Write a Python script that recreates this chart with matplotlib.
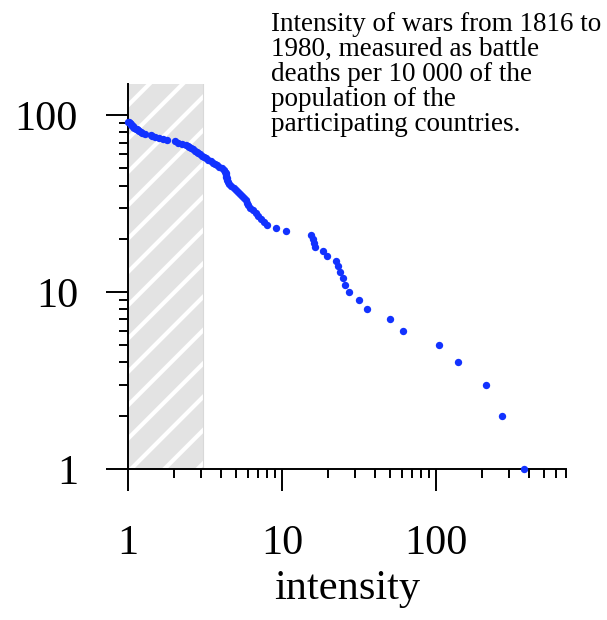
import matplotlib

matplotlib.use("Agg")
import matplotlib.pyplot as plt
from matplotlib.ticker import FixedLocator, LogLocator, NullFormatter


plt.rcParams.update(
    {
        "font.family": ["Liberation Serif", "DejaVu Serif"],
        "hatch.linewidth": 3.0,
        "axes.linewidth": 1.4,
    }
)

# war intensity (battle deaths per 10 000 population), largest first;
# the rank of each war is its cumulative count
intensity = [
    373, 268, 211, 140, 105, 61, 50, 35.5, 31.8, 27.3,
    25.7, 25.0, 24.0, 23.2, 22.6, 19.7, 18.5, 16.4, 16.1, 15.8,
    15.4, 10.6, 9.2, 7.95, 7.64, 7.3, 7.02, 6.78, 6.5, 6.2,
    6.0, 5.9, 5.85, 5.7, 5.5, 5.3, 5.15, 5.05, 4.85, 4.65,
    4.5, 4.45, 4.42, 4.38, 4.35, 4.32, 4.3, 4.27, 4.2, 4.05,
    3.9, 3.78, 3.65, 3.55, 3.45, 3.32, 3.22, 3.12, 3.02, 2.95,
    2.87, 2.8, 2.72, 2.65, 2.57, 2.5, 2.44, 2.38, 2.25, 2.12,
    2.02, 1.78, 1.68, 1.6, 1.5, 1.44, 1.41, 1.28, 1.24, 1.21,
    1.18, 1.16, 1.14, 1.12, 1.1, 1.08, 1.07, 1.05, 1.04, 1.03,
    1.02, 1.0,
]
wars_at_least = list(range(1, len(intensity) + 1))

shade_range = (1, 3.05)
tick_values = [1, 10, 100]
tick_labels = ["1", "10", "100"]
caption = (
    "Intensity of wars from 1816 to\n"
    "1980, measured as battle\n"
    "deaths per 10 000 of the\n"
    "population of the\n"
    "participating countries."
)

fig = plt.figure(figsize=(6.07, 6.20), dpi=100)
ax = fig.add_axes([128 / 607, 151 / 620, 438 / 607, 385 / 620])

ax.set_xscale("log")
ax.set_yscale("log")
ax.set_xlim(1, 700)
ax.set_ylim(1, 150)

ax.axvspan(*shade_range, facecolor="#e3e3e3", edgecolor="white",
           hatch="/", linewidth=0, zorder=0)
ax.axvline(shade_range[1], color="#d8d8d8", linewidth=0.8, zorder=0)

ax.plot(intensity, wars_at_least, "o", color="#1232ff", markersize=5.3,
        markeredgewidth=0, clip_on=False, zorder=5)

for side in ("top", "right"):
    ax.spines[side].set_visible(False)

for axis in (ax.xaxis, ax.yaxis):
    axis.set_major_locator(FixedLocator(tick_values))
    axis.set_minor_locator(LogLocator(base=10, subs=range(2, 10)))
    axis.set_minor_formatter(NullFormatter())
ax.set_xticklabels(tick_labels)
ax.set_yticklabels(tick_labels)

ax.tick_params(which="major", direction="out", length=16, width=1.4,
               labelsize=30.5)
ax.tick_params(axis="x", which="major", pad=24)
ax.tick_params(axis="y", which="major", pad=20)
ax.tick_params(which="minor", direction="out", length=6.5, width=1.4)

ax.set_xlabel("intensity", fontsize=30.5, labelpad=5)

fig.text(271 / 607, 1 - 12 / 620, caption, ha="left", va="top",
         fontsize=19.5, linespacing=1.0)

fig.savefig("out.png", dpi=100)
